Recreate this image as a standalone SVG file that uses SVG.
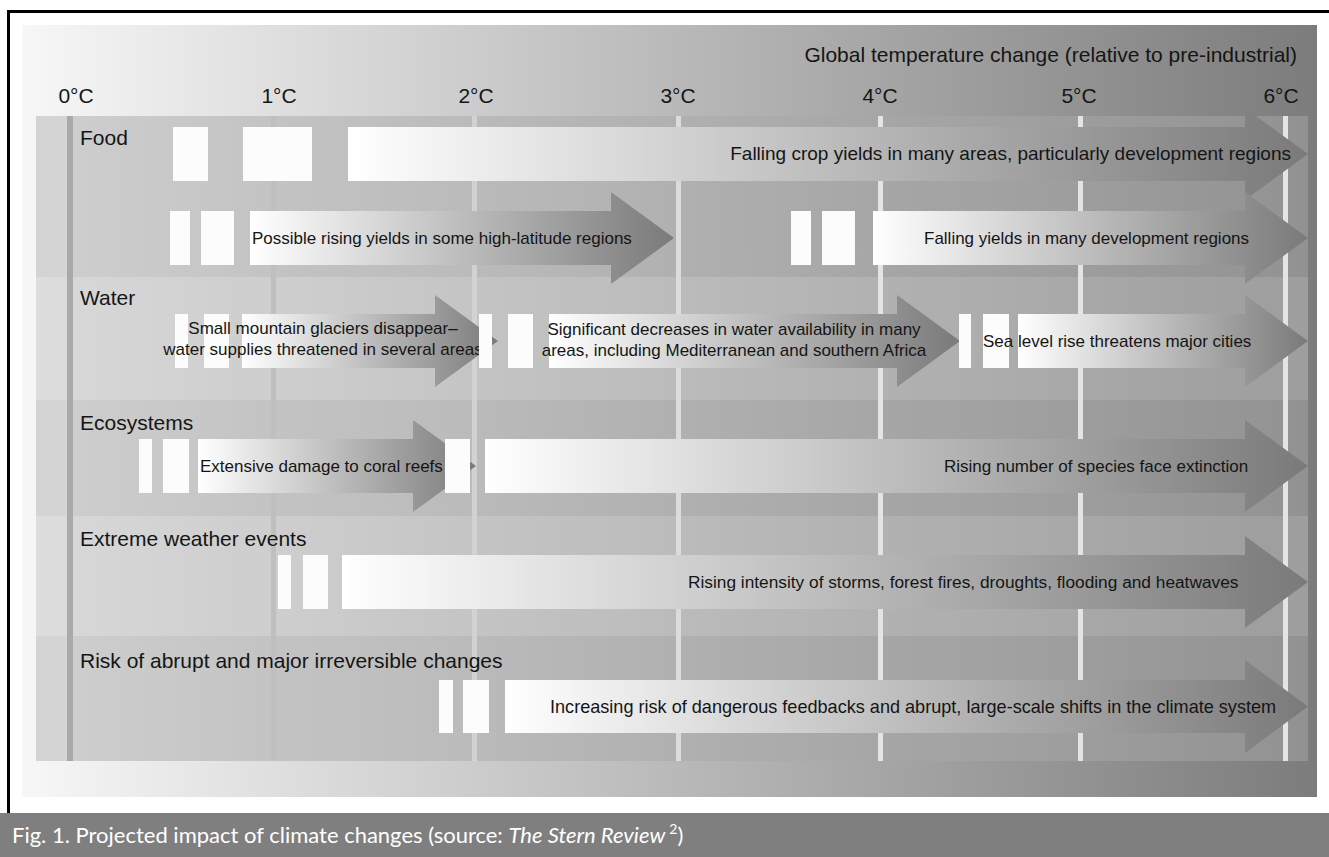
<svg xmlns="http://www.w3.org/2000/svg" width="1329" height="857" viewBox="0 0 1329 857">
<defs>
<linearGradient id="bg" x1="0" y1="0" x2="1" y2="0">
<stop offset="0" stop-color="#f7f7f7"/>
<stop offset="1" stop-color="#7c7c7c"/>
</linearGradient>
<linearGradient id="panel" x1="0" y1="0" x2="1" y2="0">
<stop offset="0" stop-color="#d7d7d7"/>
<stop offset="1" stop-color="#989898"/>
</linearGradient>
<linearGradient id="arr" x1="0" y1="0" x2="1" y2="0">
<stop offset="0" stop-color="#ffffff"/>
<stop offset="0.06" stop-color="#f7f7f7"/>
<stop offset="1" stop-color="#7a7a7a"/>
</linearGradient>
<style>
.t{font-family:"Liberation Sans",Arial,sans-serif;fill:#151515}
.ax{font-size:21px}
.cat{font-size:21px}
.lb{font-size:17px}
.box{fill:#fcfcfc}
.arrow{fill:url(#arr)}
.grid{fill:#e4e4e4}
.dark{fill:#000;opacity:0.035}
.light{fill:#fff;opacity:0.06}
.cap{font-family:Lato,"Open Sans","Liberation Sans",sans-serif;font-size:22px;fill:#ffffff}
</style>
</defs>

<!-- frame and background -->
<rect x="0" y="0" width="1329" height="857" fill="#ffffff"/>
<rect x="22" y="25" width="1295" height="772" fill="url(#bg)"/>
<rect x="7" y="10" width="1322" height="3" fill="#000"/>
<rect x="7" y="10" width="3" height="803" fill="#000"/>
<rect x="0" y="813" width="1329" height="44" fill="#7f7f7f"/>

<!-- panel -->
<g id="panel-area">
<rect x="36" y="116" width="1272" height="645" fill="url(#panel)"/>
<rect class="dark" x="36" y="116" width="1272" height="161"/>
<rect class="light" x="36" y="277" width="1272" height="123"/>
<rect class="dark" x="36" y="400" width="1272" height="116"/>
<rect class="light" x="36" y="516" width="1272" height="120"/>
<rect class="dark" x="36" y="636" width="1272" height="125"/>
<rect x="36" y="116" width="32" height="645" fill="#fff" opacity="0.12"/>
</g>

<!-- axis -->
<g id="axis">
<rect x="67" y="116" width="6" height="645" fill="#a9a9a9"/>
<rect x="271" y="116" width="5" height="645" fill="#bfbfbf"/>
<rect x="472" y="116" width="5" height="645" fill="#d2d2d2"/>
<rect x="676" y="116" width="5" height="645" fill="#dcdcdc"/>
<rect x="878" y="116" width="5" height="645" class="grid"/>
<rect x="1078" y="116" width="5" height="645" class="grid"/>
<rect x="1283" y="116" width="5" height="645" class="grid"/>
<text class="t ax" x="1297" y="62" text-anchor="end">Global temperature change (relative to pre-industrial)</text>
<text class="t ax" x="76" y="103" text-anchor="middle">0°C</text>
<text class="t ax" x="279" y="103" text-anchor="middle">1°C</text>
<text class="t ax" x="476" y="103" text-anchor="middle">2°C</text>
<text class="t ax" x="678" y="103" text-anchor="middle">3°C</text>
<text class="t ax" x="880" y="103" text-anchor="middle">4°C</text>
<text class="t ax" x="1079" y="103" text-anchor="middle">5°C</text>
<text class="t ax" x="1281" y="103" text-anchor="middle">6°C</text>
</g>

<g id="connectors"></g>

<!-- Food -->
<g id="food">
<text class="t cat" x="80" y="145">Food</text>
<g id="food-falling-crop">
<rect class="box" x="173" y="127" width="35" height="54"/>
<rect class="box" x="243" y="127" width="69" height="54"/>
<path class="arrow" d="M348,127 H1245 V108 L1308,154 L1245,200 V181 H348 Z"/>
<text class="t lb" x="1291" y="160" text-anchor="end" style="font-size:19px">Falling crop yields in many areas, particularly development regions</text>
</g>
<g id="food-rising">
<rect class="box" x="170" y="211" width="20" height="54"/>
<rect class="box" x="201" y="211" width="33" height="54"/>
<path class="arrow" d="M250,211 H611 V192 L674,238 L611,284 V265 H250 Z"/>
<text class="t lb" x="252" y="244">Possible rising yields in some high-latitude regions</text>
</g>
<g id="food-falling">
<rect class="box" x="791" y="211" width="20" height="54"/>
<rect class="box" x="822" y="211" width="33" height="54"/>
<path class="arrow" d="M873,211 H1245 V192 L1308,238 L1245,284 V265 H873 Z"/>
<text class="t lb" x="924" y="244">Falling yields in many development regions</text>
</g>
</g>

<!-- Water -->
<g id="water">
<text class="t cat" x="80" y="305">Water</text>
<g id="water-glaciers">
<rect class="box" x="175" y="314" width="13" height="54"/>
<rect class="box" x="204" y="314" width="25" height="54"/>
<path class="arrow" d="M242,314 H435 V295 L498,341 L435,387 V368 H242 Z"/>
<text class="t lb" x="323" y="334" text-anchor="middle">Small mountain glaciers disappear–</text>
<text class="t lb" x="323" y="355" text-anchor="middle">water supplies threatened in several areas</text>
</g>
<g id="water-decreases">
<rect class="box" x="479" y="314" width="13" height="54"/>
<rect class="box" x="508" y="314" width="25" height="54"/>
<path class="arrow" d="M549,314 H897 V295 L960,341 L897,387 V368 H549 Z"/>
<text class="t lb" x="734" y="335" text-anchor="middle">Significant decreases in water availability in many</text>
<text class="t lb" x="734" y="356" text-anchor="middle">areas, including Mediterranean and southern Africa</text>
</g>
<g id="water-sealevel">
<rect class="box" x="959" y="314" width="12" height="54"/>
<rect class="box" x="983" y="314" width="26" height="54"/>
<path class="arrow" d="M1018,314 H1245 V295 L1308,341 L1245,387 V368 H1018 Z"/>
<text class="t lb" x="983" y="347">Sea level rise threatens major cities</text>
</g>
</g>

<!-- Ecosystems -->
<g id="ecosystems">
<text class="t cat" x="80" y="430">Ecosystems</text>
<g id="eco-coral">
<rect class="box" x="139" y="439" width="13" height="54"/>
<rect class="box" x="163" y="439" width="26" height="54"/>
<path class="arrow" d="M198,439 H413 V420 L476,466 L413,512 V493 H198 Z"/>
<rect class="box" x="445" y="439" width="25" height="54"/>
<text class="t lb" x="200" y="472">Extensive damage to coral reefs</text>
</g>
<g id="eco-species">
<path class="arrow" d="M485,439 H1245 V420 L1308,466 L1245,512 V493 H485 Z"/>
<text class="t lb" x="944" y="472">Rising number of species face extinction</text>
</g>
</g>

<!-- Extreme weather -->
<g id="extreme">
<text class="t cat" x="80" y="546">Extreme weather events</text>
<g id="extreme-storms">
<rect class="box" x="278" y="555" width="13" height="54"/>
<rect class="box" x="303" y="555" width="25" height="54"/>
<path class="arrow" d="M342,555 H1245 V536 L1308,582 L1245,628 V609 H342 Z"/>
<text class="t lb" x="688" y="588" style="font-size:17.3px">Rising intensity of storms, forest fires, droughts, flooding and heatwaves</text>
</g>
</g>

<!-- Risk -->
<g id="risk">
<text class="t cat" x="80" y="668">Risk of abrupt and major irreversible changes</text>
<g id="risk-feedbacks">
<rect class="box" x="439" y="680" width="14" height="53"/>
<rect class="box" x="463" y="680" width="26" height="53"/>
<path class="arrow" d="M505,680 H1245 V660 L1308,706.5 L1245,753 V733 H505 Z"/>
<text class="t lb" x="550" y="713" style="font-size:18.1px">Increasing risk of dangerous feedbacks and abrupt, large-scale shifts in the climate system</text>
</g>
</g>

<!-- caption -->
<g id="caption">
<text class="cap" x="12" y="843">Fig. 1.  Projected impact of climate changes (source: <tspan font-style="italic">The Stern Review</tspan><tspan dx="4" dy="-9" style="font-size:14px">2</tspan><tspan dy="9">)</tspan></text>
</g>
</svg>
